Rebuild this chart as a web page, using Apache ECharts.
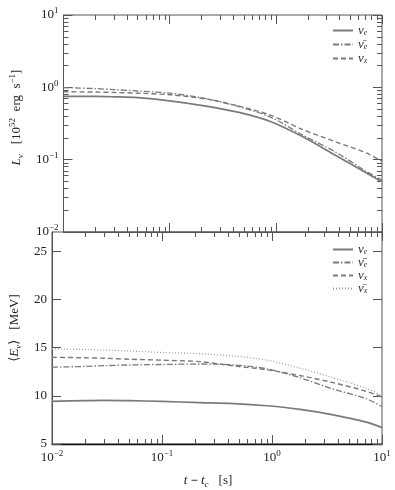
<!DOCTYPE html>
<html>
<head>
<meta charset="utf-8">
<script src="https://cdn.jsdelivr.net/npm/echarts@6/dist/echarts.min.js"></script>
<style>
  html, body { margin: 0; padding: 0; background: #fff; }
  #chart { width: 395px; height: 490px; }
</style>
</head>
<body>
<div id="chart"></div>
<script>
// time after core bounce t - t_c [s]
const times = [0.01, 0.02, 0.03, 0.05, 0.1, 0.22, 0.45, 0.9, 1.8, 3.6, 7.2, 10]

// luminosity [1e52 erg/s]
const lumNue = [0.75, 0.75, 0.74, 0.72, 0.65, 0.55, 0.45, 0.335, 0.207, 0.116, 0.065, 0.0496]
const lumNuebar = [0.99, 0.96, 0.93, 0.89, 0.83, 0.70, 0.54, 0.385, 0.218, 0.129, 0.068, 0.052]
const lumNux = [0.87, 0.86, 0.85, 0.83, 0.79, 0.69, 0.55, 0.41, 0.26, 0.178, 0.123, 0.095]

// mean energy [MeV]
const enNue = [9.43, 9.5, 9.53, 9.5, 9.42, 9.3, 9.2, 8.97, 8.6, 8.03, 7.27, 6.7]
const enNuebar = [12.97, 13.05, 13.13, 13.2, 13.25, 13.3, 13.2, 12.8, 11.87, 10.7, 9.7, 8.87]
const enNux = [14.0, 13.95, 13.9, 13.8, 13.7, 13.55, 13.1, 12.7, 12.1, 11.37, 10.47, 9.87]
const enNuxbar = [14.87, 14.8, 14.75, 14.65, 14.5, 14.37, 14.13, 13.7, 12.87, 11.87, 10.77, 10.03]

// axis ticks
const logMajor = [0.01, 0.1, 1, 10]
const logMinor = []
for (let e = -2; e < 1; e++) {
  for (let m = 2; m <= 9; m++) logMinor.push(m * Math.pow(10, e))
}
const energyTicks = [5, 10, 15, 20, 25]

const SERIF = '"Liberation Serif", "DejaVu Serif", serif'
const LINE = '#7a7a7a'
const AXIS = '#555'

const rich = {
  b: { fontFamily: SERIF, fontSize: 13, lineHeight: 17, color: '#222' },
  it: { fontFamily: SERIF, fontSize: 13, lineHeight: 17, fontStyle: 'italic', color: '#222' },
  sup: { fontFamily: SERIF, fontSize: 9, lineHeight: 10, verticalAlign: 'top', color: '#222' },
  sub: { fontFamily: SERIF, fontSize: 9, lineHeight: 10, verticalAlign: 'bottom', color: '#222' },
  subit: { fontFamily: SERIF, fontSize: 9, lineHeight: 10, verticalAlign: 'bottom', fontStyle: 'italic', color: '#222' }
}

const legendRich = {
  it: { fontFamily: SERIF, fontSize: 13, lineHeight: 12, fontStyle: 'italic', color: '#333' },
  subit: { fontFamily: SERIF, fontSize: 8, lineHeight: 8, verticalAlign: 'bottom', fontStyle: 'italic', color: '#333' }
}

const legendNames = {
  'L nue': '{it|ν}{subit|e}',
  'L nuebar': '{it|ν̄}{subit|e}',
  'L nux': '{it|ν}{subit|x}',
  'E nue': '{it|ν}{subit|e}',
  'E nuebar': '{it|ν̄}{subit|e}',
  'E nux': '{it|ν}{subit|x}',
  'E nuxbar': '{it|ν̄}{subit|x}'
}

function pow10Label(v) {
  const e = Math.round(Math.log10(v))
  return '{b|10}{sup|' + String(e).replace('-', '−') + '}'
}

function pairs(xs, ys) {
  return xs.map((x, i) => [x, ys[i]])
}

function lineSeries(name, xi, ys, type, width, color) {
  return {
    name: name,
    type: 'line',
    xAxisIndex: xi,
    yAxisIndex: xi,
    data: pairs(times, ys),
    smooth: 0.3,
    symbol: 'none',
    lineStyle: { color: color || LINE, width: width, type: type },
    itemStyle: { color: color || LINE },
    z: 3
  }
}

function inTicks(values, len) {
  return { show: true, inside: true, length: len, customValues: values, lineStyle: { color: AXIS } }
}

// extra axes that only carry inward tick marks (mirrored sides and minor ticks)
function tickAxis(gridIndex, type, position, min, max, values, len) {
  return {
    type: type,
    gridIndex: gridIndex,
    position: position,
    min: min,
    max: max,
    axisLine: { show: false },
    axisLabel: { show: false },
    splitLine: { show: false },
    axisTick: inTicks(values, len)
  }
}

const legendBase = {
  orient: 'vertical',
  left: 327,
  itemWidth: 20,
  itemHeight: 10,
  selectedMode: false,
  itemStyle: { opacity: 0 },
  formatter: name => legendNames[name],
  textStyle: { rich: legendRich }
}

const chart = echarts.init(document.getElementById('chart'))
chart.setOption({
  backgroundColor: '#fff',
  animation: false,
  grid: [
    { left: 52, top: 15, width: 330, height: 217, show: true, borderColor: AXIS, borderWidth: 1 },
    { left: 52, top: 232, width: 330, height: 220, show: true, borderColor: AXIS, borderWidth: 1 }
  ],
  legend: [
    Object.assign({}, legendBase, {
      data: ['L nue', 'L nuebar', 'L nux'],
      top: 19,
      itemGap: 1
    }),
    Object.assign({}, legendBase, {
      data: ['E nue', 'E nuebar', 'E nux', 'E nuxbar'],
      top: 238,
      itemGap: 0
    })
  ],
  xAxis: [
    {
      type: 'log',
      gridIndex: 0,
      position: 'bottom',
      min: 0.01,
      max: 10,
      axisLine: { show: true, lineStyle: { color: AXIS } },
      axisTick: inTicks(logMajor, 9),
      axisLabel: { show: false },
      splitLine: { show: false }
    },
    {
      type: 'log',
      gridIndex: 1,
      position: 'bottom',
      min: 0.01,
      max: 10,
      axisLine: { show: true, lineStyle: { color: '#111', width: 1.3 } },
      axisTick: inTicks(logMajor, 9),
      splitLine: { show: false },
      axisLabel: { margin: 5, formatter: pow10Label, rich: rich },
      name: '{it|t} − {it|t}{subit|c}   {b|[s]}',
      nameLocation: 'middle',
      nameGap: 28,
      nameTextStyle: { rich: rich, padding: [0, 18, 0, 0] }
    },
    tickAxis(0, 'log', 'bottom', 0.01, 10, logMinor, 5),
    tickAxis(0, 'log', 'top', 0.01, 10, logMajor, 9),
    tickAxis(0, 'log', 'top', 0.01, 10, logMinor, 5),
    tickAxis(1, 'log', 'bottom', 0.01, 10, logMinor, 5),
    tickAxis(1, 'log', 'top', 0.01, 10, logMajor, 9),
    tickAxis(1, 'log', 'top', 0.01, 10, logMinor, 5)
  ],
  yAxis: [
    {
      type: 'log',
      gridIndex: 0,
      position: 'left',
      min: 0.01,
      max: 10,
      axisLine: { show: true, lineStyle: { color: AXIS } },
      axisTick: inTicks(logMajor, 9),
      splitLine: { show: false },
      axisLabel: { margin: 5, formatter: pow10Label, rich: rich },
      name: '{it|L}{subit|ν}   {b|[10}{sup|52}{b|  erg  s}{sup|−1}{b|]}',
      nameLocation: 'middle',
      nameRotate: 90,
      nameGap: 28,
      nameTextStyle: { rich: rich, padding: [0, 0, 0, 12] }
    },
    {
      type: 'value',
      gridIndex: 1,
      position: 'left',
      min: 5,
      max: 27,
      interval: 5,
      axisLine: { show: true, lineStyle: { color: AXIS } },
      axisTick: inTicks(energyTicks, 9),
      splitLine: { show: false },
      axisLabel: {
        margin: 5,
        showMaxLabel: false,
        fontFamily: SERIF,
        fontSize: 13,
        color: '#222'
      },
      name: '{b|⟨}{it|E}{subit|ν}{b|⟩}   {b|[MeV]}',
      nameLocation: 'middle',
      nameRotate: 90,
      nameGap: 28,
      nameTextStyle: { rich: rich, padding: [0, 0, 0, 20] }
    },
    tickAxis(0, 'log', 'left', 0.01, 10, logMinor, 5),
    tickAxis(0, 'log', 'right', 0.01, 10, logMajor, 9),
    tickAxis(0, 'log', 'right', 0.01, 10, logMinor, 5),
    tickAxis(1, 'value', 'right', 5, 27, energyTicks, 9)
  ],
  series: [
    lineSeries('L nue', 0, lumNue, 'solid', 1.7),
    lineSeries('L nuebar', 0, lumNuebar, [6, 2, 1.5, 2], 1.3),
    lineSeries('L nux', 0, lumNux, [5, 3], 1.4),
    lineSeries('E nue', 1, enNue, 'solid', 1.7),
    lineSeries('E nuebar', 1, enNuebar, [6, 2, 1.5, 2], 1.3),
    lineSeries('E nux', 1, enNux, [5, 3], 1.4),
    lineSeries('E nuxbar', 1, enNuxbar, [1, 2], 1.2, '#999')
  ]
})
</script>
</body>
</html>
